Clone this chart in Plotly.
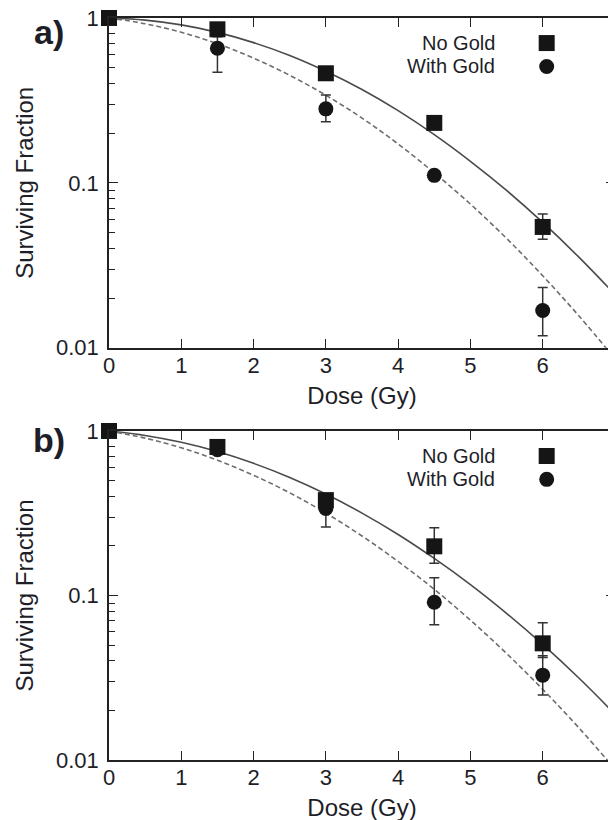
import plotly.graph_objects as go

# ---------------- data ----------------
dose = [0, 1.5, 3, 4.5, 6]

# panel a
a_no_gold = [1.0, 0.854, 0.462, 0.231, 0.054]
a_no_gold_err_plus = [0, 0, 0, 0, 0.0106]
a_no_gold_err_minus = [0, 0, 0, 0, 0.0086]
a_gold = [1.0, 0.655, 0.281, 0.111, 0.0168]
a_gold_err_plus = [0, 0.115, 0.060, 0, 0.0064]
a_gold_err_minus = [0, 0.186, 0.046, 0, 0.0050]

# panel b
b_no_gold = [1.0, 0.80, 0.38, 0.199, 0.0512]
b_no_gold_err_plus = [0, 0, 0, 0.059, 0.017]
b_no_gold_err_minus = [0, 0, 0, 0.042, 0.0092]
b_gold = [1.0, 0.77, 0.338, 0.091, 0.0328]
b_gold_err_plus = [0, 0, 0.05, 0.037, 0.0102]
b_gold_err_minus = [0, 0, 0.077, 0.0247, 0.008]

# fitted curves, every 0.5 Gy
curve_dose = [0, 0.5, 1, 1.5, 2, 2.5, 3, 3.5, 4, 4.5, 5, 5.5, 6, 6.5, 7]
a_fit_no_gold = [1.0, 0.971, 0.908, 0.818, 0.709, 0.592, 0.475, 0.368, 0.274,
                 0.196, 0.135, 0.0899, 0.0575, 0.0354, 0.0210]
a_fit_gold = [1.0, 0.923, 0.819, 0.698, 0.571, 0.449, 0.340, 0.247, 0.172,
              0.115, 0.0743, 0.0460, 0.0273, 0.0156, 0.00857]
b_fit_no_gold = [1.0, 0.940, 0.854, 0.750, 0.636, 0.522, 0.414, 0.317, 0.235,
                 0.168, 0.1165, 0.0779, 0.0504, 0.0315, 0.0190]
b_fit_gold = [1.0, 0.905, 0.790, 0.664, 0.538, 0.421, 0.317, 0.230, 0.161,
              0.109, 0.0708, 0.0444, 0.0269, 0.0157, 0.0088]

x_ticks = [0, 1, 2, 3, 4, 5, 6, 7]
y_ticks = [0.01, 0.1, 1]
y_tick_text = ["0.01", "0.1", "1"]
y_minor = [0.02, 0.03, 0.04, 0.05, 0.06, 0.07, 0.08, 0.09,
           0.2, 0.3, 0.4, 0.5, 0.6, 0.7, 0.8, 0.9]
series_names = ["No Gold", "With Gold"]
panel_labels = ["a)", "b)"]
x_title = "Dose (Gy)"
y_title = "Surviving Fraction"

# ---------------- styling ----------------
FONT = "Arial, Liberation Sans, Helvetica, sans-serif"
TXT = "#1e1e28"
MARK = "#151515"

fig = go.Figure()

panels = [
    (a_no_gold, a_no_gold_err_plus, a_no_gold_err_minus,
     a_gold, a_gold_err_plus, a_gold_err_minus, a_fit_no_gold, a_fit_gold, "x", "y"),
    (b_no_gold, b_no_gold_err_plus, b_no_gold_err_minus,
     b_gold, b_gold_err_plus, b_gold_err_minus, b_fit_no_gold, b_fit_gold, "x2", "y2"),
]

for (ng, ngp, ngm, g, gp, gm, fng, fg, xa, ya) in panels:
    fig.add_trace(go.Scatter(x=curve_dose, y=fng, mode="lines", xaxis=xa, yaxis=ya,
                             line=dict(color="#4a4a4a", width=1.6, shape="spline"),
                             showlegend=False, hoverinfo="skip"))
    fig.add_trace(go.Scatter(x=curve_dose, y=fg, mode="lines", xaxis=xa, yaxis=ya,
                             line=dict(color="#6e6e6e", width=1.6, dash="5px,3px", shape="spline"),
                             showlegend=False, hoverinfo="skip"))
    fig.add_trace(go.Scatter(x=dose, y=g, mode="markers", xaxis=xa, yaxis=ya,
                             name=series_names[1], cliponaxis=False,
                             marker=dict(symbol="circle", size=15, color=MARK),
                             error_y=dict(type="data", symmetric=False, array=gp, arrayminus=gm,
                                          color="#333333", thickness=1.5, width=5),
                             showlegend=False))
    fig.add_trace(go.Scatter(x=dose, y=ng, mode="markers", xaxis=xa, yaxis=ya,
                             name=series_names[0], cliponaxis=False,
                             marker=dict(symbol="square", size=16, color=MARK),
                             error_y=dict(type="data", symmetric=False, array=ngp, arrayminus=ngm,
                                          color="#333333", thickness=1.5, width=5),
                             showlegend=False))

xaxis_common = dict(range=[0, 7], tickmode="array", tickvals=x_ticks, automargin=False,
                    ticks="inside", ticklen=9, tickwidth=1.3, tickcolor="#222",
                    showline=True, linecolor="#222", linewidth=1.5, mirror="ticks",
                    showgrid=False, zeroline=False, ticklabeloverflow="allow",
                    ticklabelstandoff=-3,
                    tickfont=dict(family=FONT, size=22, color=TXT),
                    title=dict(text=x_title, font=dict(family=FONT, size=24, color=TXT), standoff=10))
yaxis_common = dict(type="log", range=[-2, 0], tickmode="array", tickvals=y_ticks,
                    ticktext=y_tick_text, automargin=False, ticklabeloverflow="allow",
                    ticks="inside", ticklen=9, tickwidth=1.3, tickcolor="#222",
                    minor=dict(tickmode="array", tickvals=y_minor, ticks="inside",
                               ticklen=6, tickwidth=1.2, tickcolor="#222", showgrid=False),
                    showline=True, linecolor="#222", linewidth=1.5, mirror="ticks",
                    showgrid=False, zeroline=False, ticklabelstandoff=4,
                    tickfont=dict(family=FONT, size=22, color=TXT),
                    title=dict(text=y_title, font=dict(family=FONT, size=24, color=TXT), standoff=16))

fig.update_layout(
    width=616, height=820,
    margin=dict(l=101, r=9, t=10, b=68, autoexpand=False),
    paper_bgcolor="white", plot_bgcolor="white",
    font=dict(family=FONT, color=TXT),
    showlegend=False,
    xaxis=dict(domain=[0, 1], anchor="y", **xaxis_common),
    yaxis=dict(domain=[0.5557, 1.0], anchor="x", **yaxis_common),
    xaxis2=dict(domain=[0, 1], anchor="y2", **xaxis_common),
    yaxis2=dict(domain=[0.0, 0.4434], anchor="x2", **yaxis_common),
)

# panel labels
for lbl, ypos in zip(panel_labels, [0.981, 0.4312]):
    fig.add_annotation(text=lbl, xref="paper", yref="paper", x=-0.1186, y=ypos,
                       xanchor="center", yanchor="middle", showarrow=False,
                       font=dict(family=FONT, size=34, color=TXT, weight="bold"))

# legends (text right-aligned, key symbol to the right)
for xr, yr in [("x domain", "y domain"), ("x2 domain", "y2 domain")]:
    for name, yy, sym in [(series_names[0], 0.924, "rect"), (series_names[1], 0.853, "circle")]:
        fig.add_annotation(text=name, xref=xr, yref=yr, x=0.766, y=yy,
                           xanchor="right", yanchor="middle", showarrow=False,
                           font=dict(family=FONT, size=20, color=TXT))
        half = 8 if sym == "rect" else 7.5
        fig.add_shape(type=sym, xref=xr, yref=yr, xsizemode="pixel", ysizemode="pixel",
                      xanchor=0.865, yanchor=yy, x0=-half, x1=half, y0=-half, y1=half,
                      fillcolor=MARK, line=dict(width=0))

fig.write_html("out.html")
